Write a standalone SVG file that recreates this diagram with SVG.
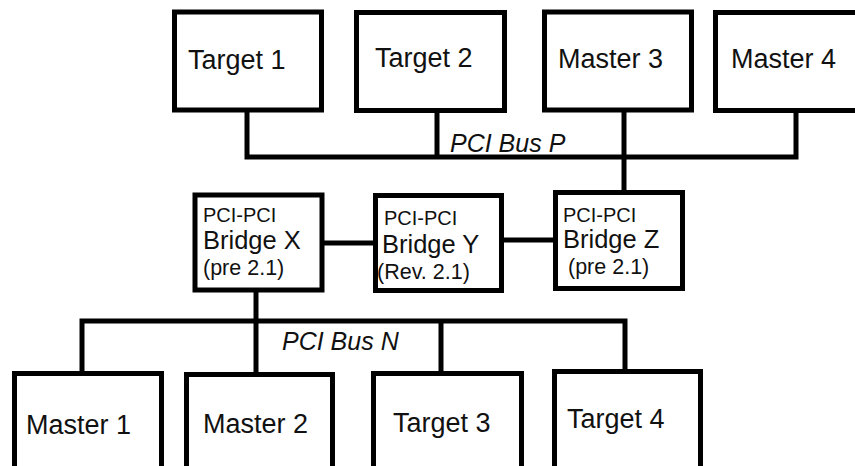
<svg xmlns="http://www.w3.org/2000/svg" width="855" height="466" viewBox="0 0 855 466">
<style>
.box{fill:#fff;stroke:#000;stroke-width:5}
.wire{fill:none;stroke:#000;stroke-width:5;stroke-linecap:butt;stroke-linejoin:miter}
text{font-family:"Liberation Sans",Arial,sans-serif;fill:#111}
.lbl{font-size:27px}
.br{font-size:25.5px}
.sm{font-size:20px}
.pr{font-size:21.5px}
.bus{font-size:25px;font-style:italic}
</style>
<rect width="855" height="466" fill="#fff"/>
<g id="connectors">
<path class="wire" d="M247 112V157H796V113"/>
<path class="wire" d="M437 113V157"/>
<path class="wire" d="M624 112V193"/>
<path class="wire" d="M322 243H375"/>
<path class="wire" d="M501 240H555"/>
<path class="wire" d="M256 290V374"/>
<path class="wire" d="M82 373V321H625V371"/>
<path class="wire" d="M441 321V373"/>
</g>
<g id="target1"><rect class="box" x="174.5" y="12" width="147" height="98"/><text class="lbl" x="188" y="69">Target 1</text></g>
<g id="target2"><rect class="box" x="356.5" y="12.5" width="148" height="98"/><text class="lbl" x="375" y="67">Target 2</text></g>
<g id="master3"><rect class="box" x="544.5" y="12" width="147" height="98"/><text class="lbl" x="558" y="68">Master 3</text></g>
<g id="master4"><rect class="box" x="715.5" y="12.5" width="150" height="98"/><text class="lbl" x="731" y="68">Master 4</text></g>
<g id="busP"><text class="bus" x="450" y="152">PCI Bus P</text></g>
<g id="bridgeX"><rect class="box" x="195" y="195" width="127" height="95"/>
<text class="sm" x="203" y="222">PCI-PCI</text><text class="br" x="203" y="249">Bridge X</text><text class="pr" x="203" y="275">(pre 2.1)</text></g>
<g id="bridgeY"><rect class="box" x="375.5" y="195.5" width="126" height="95"/>
<text class="sm" x="384" y="225">PCI-PCI</text><text class="br" x="382" y="253">Bridge Y</text><text class="pr" x="377" y="279">(Rev. 2.1)</text></g>
<g id="bridgeZ"><rect class="box" x="555.5" y="192.5" width="127" height="96"/>
<text class="sm" x="563" y="222">PCI-PCI</text><text class="br" x="563" y="248">Bridge Z</text><text class="pr" x="568" y="274">(pre 2.1)</text></g>
<g id="busN"><text class="bus" x="282" y="350">PCI Bus N</text></g>
<g id="master1"><rect class="box" x="14.5" y="373.5" width="147" height="110"/><text class="lbl" x="26" y="434">Master 1</text></g>
<g id="master2"><rect class="box" x="186.5" y="374.5" width="146" height="110"/><text class="lbl" x="203" y="433">Master 2</text></g>
<g id="target3"><rect class="box" x="373.5" y="373.5" width="148" height="110"/><text class="lbl" x="393" y="432">Target 3</text></g>
<g id="target4"><rect class="box" x="554.5" y="371.5" width="146" height="110"/><text class="lbl" x="567" y="428">Target 4</text></g>
</svg>
